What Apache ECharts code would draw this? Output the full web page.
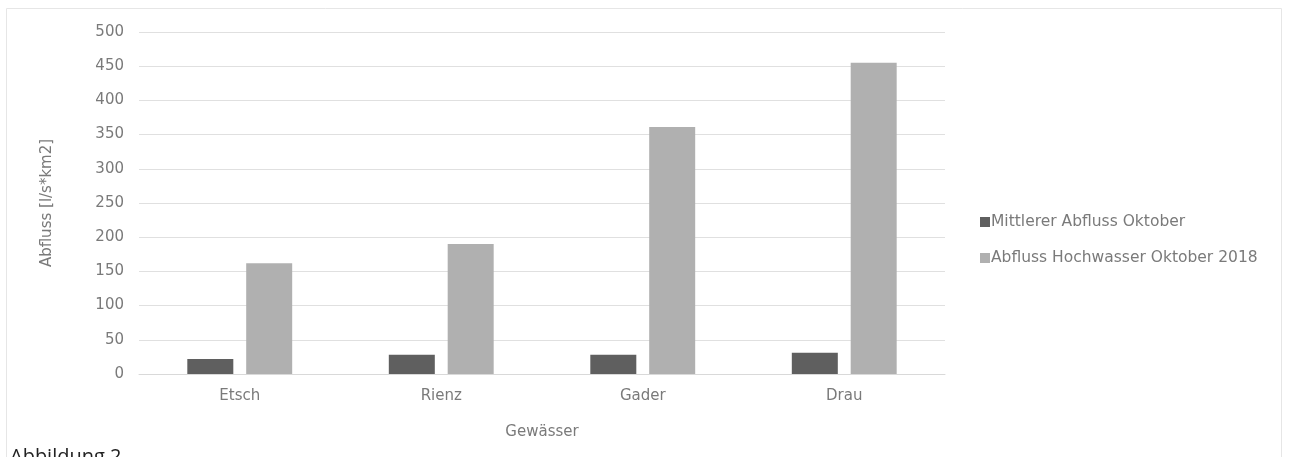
<!DOCTYPE html>
<html>
<head>
<meta charset="utf-8">
<script src="https://cdn.jsdelivr.net/npm/echarts@6/dist/echarts.min.js"></script>
<style>
html,body{margin:0;padding:0;background:#fff;}
#c{width:1290px;height:457px;}
</style>
</head>
<body>
<div id="c"></div>
<script>
const categories = ['Etsch', 'Rienz', 'Gader', 'Drau'];
const seriesNames = ['Mittlerer Abfluss Oktober', 'Abfluss Hochwasser Oktober 2018'];
const mittlererAbfluss = [22, 28, 28, 31];
const hochwasserAbfluss = [162, 190, 361, 455];
const yTicks = { min: 0, max: 500, interval: 50 };

const chart = echarts.init(document.getElementById('c'), null, { renderer: 'canvas' });
const font = '"DejaVu Sans", "Open Sans", sans-serif';
const textColor = '#7a7a7a';
const fs = 15;
chart.setOption({
  animation: false,
  backgroundColor: '#ffffff',
  textStyle: { fontFamily: font },
  graphic: [
    { type: 'rect', shape: { x: 6.5, y: 8.5, width: 1275, height: 460 },
      style: { fill: 'none', stroke: '#e6e6e6', lineWidth: 1 }, silent: true },
    { type: 'text', left: 10, top: 447,
      style: { text: 'Abbildung 2', fill: '#222', font: '20px "Open Sans", sans-serif' } }
  ],
  grid: { left: 139, right: 345, top: 32, bottom: 83 },
  legend: {
    orient: 'vertical', left: 975, top: 209, itemGap: 20,
    itemWidth: 10, itemHeight: 10, icon: 'rect',
    textStyle: { color: textColor, fontSize: 15.5, lineHeight: 16, fontFamily: font, padding: [0,0,0,-4] },
    data: seriesNames
  },
  xAxis: {
    type: 'category', data: categories,
    name: 'Gewässer', nameLocation: 'middle', nameGap: 51,
    nameTextStyle: { color: textColor, fontSize: fs, fontFamily: font },
    axisLine: { lineStyle: { color: '#d9d9d9' } },
    axisTick: { show: false },
    axisLabel: { color: textColor, fontSize: fs, margin: 15, fontFamily: font }
  },
  yAxis: {
    type: 'value', min: yTicks.min, max: yTicks.max, interval: yTicks.interval,
    name: 'Abfluss [l/s*km2]', nameLocation: 'middle', nameGap: 84, nameRotate: 90,
    nameTextStyle: { color: textColor, fontSize: fs, fontFamily: font },
    axisLine: { show: false }, axisTick: { show: false },
    axisLabel: { color: textColor, fontSize: fs, margin: 15, fontFamily: font },
    splitLine: { lineStyle: { color: '#e0e0e0' } }
  },
  series: [
    { name: seriesNames[0], type: 'bar', data: mittlererAbfluss, barWidth: 46, barGap: '28%',
      itemStyle: { color: '#5f5f5f' } },
    { name: seriesNames[1], type: 'bar', data: hochwasserAbfluss, barWidth: 46, barGap: '28%',
      itemStyle: { color: '#b0b0b0' } }
  ]
});
</script>
</body>
</html>
